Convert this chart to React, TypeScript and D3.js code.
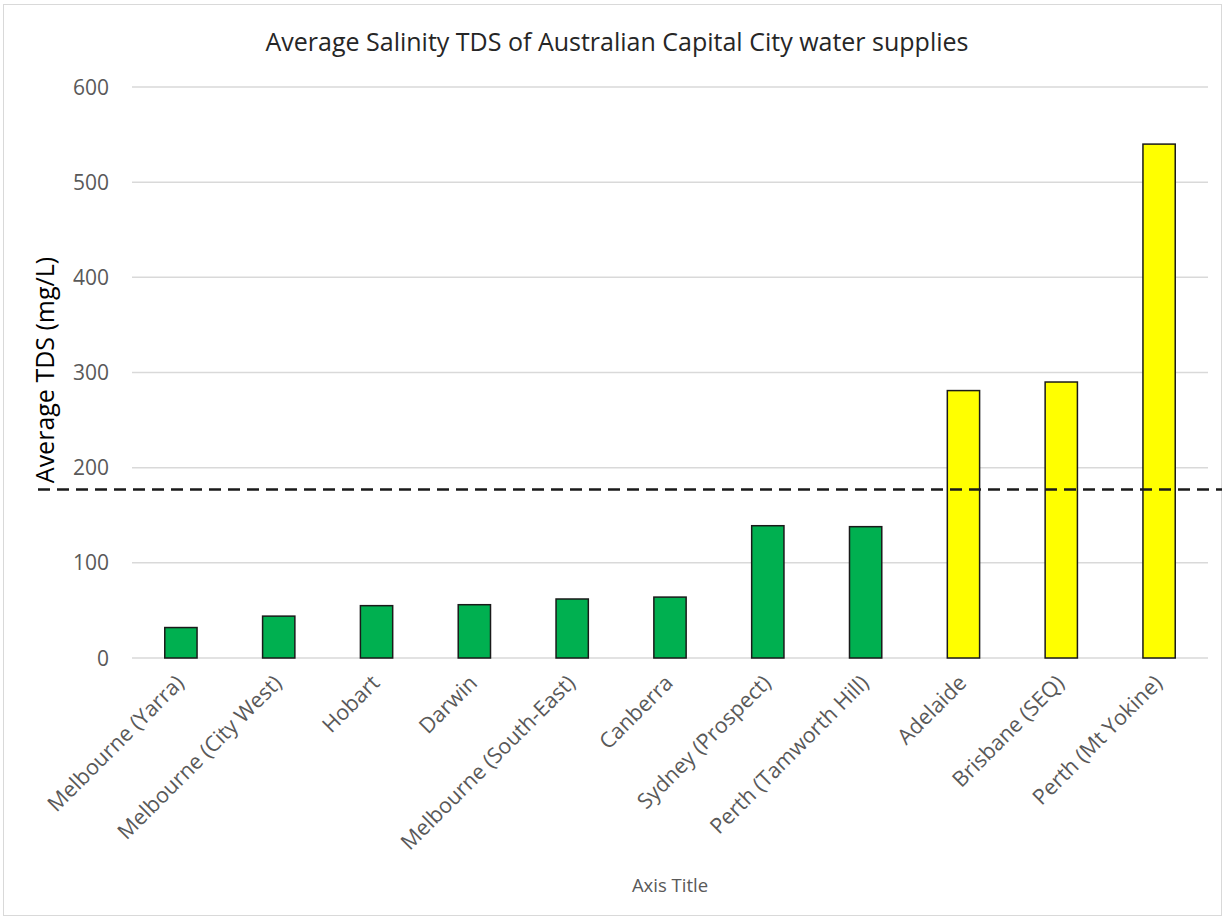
import React, { useEffect, useRef } from "react";
import * as d3 from "d3";

const categories = [
  "Melbourne (Yarra)",
  "Melbourne (City West)",
  "Hobart",
  "Darwin",
  "Melbourne (South-East)",
  "Canberra",
  "Sydney (Prospect)",
  "Perth (Tamworth Hill)",
  "Adelaide",
  "Brisbane (SEQ)",
  "Perth (Mt Yokine)",
];
const tdsValues = [32, 44, 55, 56, 62, 64, 139, 138, 281, 290, 540];
const barColors = ["#00B050", "#00B050", "#00B050", "#00B050", "#00B050", "#00B050", "#00B050", "#00B050", "#FFFF00", "#FFFF00", "#FFFF00"];
const yTicks = [0, 100, 200, 300, 400, 500, 600];
const thresholdValue = 177;

const chartTitle = "Average Salinity TDS of Australian Capital City water supplies";
const yAxisTitle = "Average TDS (mg/L)";
const xAxisTitle = "Axis Title";

const W = 1225;
const H = 920;
const FONT = "'Open Sans', Lato, sans-serif";

export default function App() {
  const ref = useRef<SVGSVGElement | null>(null);

  useEffect(() => {
    const svg = d3.select(ref.current);
    svg.selectAll("*").remove();

    const left = 132, right = 1208, top = 87, bottom = 658;

    const x = d3.scaleBand<string>().domain(categories).range([left, right]).paddingInner(0.67).paddingOuter(0.335);
    const y = d3.scaleLinear().domain([0, 600]).range([bottom, top]);

    svg.append("rect").attr("x", 3.5).attr("y", 4.5).attr("width", W - 7).attr("height", H - 9)
      .attr("fill", "#fff").attr("stroke", "#d9d9d9").attr("stroke-width", 1);

    // gridlines
    svg.append("g").selectAll("line").data(yTicks).join("line")
      .attr("x1", left).attr("x2", right)
      .attr("y1", (d) => y(d)).attr("y2", (d) => y(d))
      .attr("stroke", "#d9d9d9").attr("stroke-width", 1.5);

    // y tick labels
    svg.append("g").selectAll("text").data(yTicks).join("text")
      .attr("x", 109).attr("y", (d) => y(d)).attr("dy", "0.36em")
      .attr("text-anchor", "end").attr("fill", "#595959")
      .attr("font-family", FONT).attr("font-size", 21)
      .text((d) => String(d));

    // bars
    svg.append("g").selectAll("rect").data(tdsValues).join("rect")
      .attr("x", (_, i) => x(categories[i])!)
      .attr("y", (d) => y(d))
      .attr("width", x.bandwidth())
      .attr("height", (d) => y(0) - y(d))
      .attr("fill", (_, i) => barColors[i])
      .attr("stroke", "#1a1a1a").attr("stroke-width", 1.5);

    // threshold dashed line
    svg.append("line")
      .attr("x1", 38).attr("x2", 1222)
      .attr("y1", y(thresholdValue)).attr("y2", y(thresholdValue))
      .attr("stroke", "#1a1a1a").attr("stroke-width", 2.5)
      .attr("stroke-dasharray", "12,7");

    // x labels
    svg.append("g").selectAll("text").data(categories).join("text")
      .attr("transform", (d) => `translate(${x(d)! + x.bandwidth() / 2 - 1},${bottom + 21}) rotate(-45)`)
      .attr("text-anchor", "end").attr("fill", "#595959")
      .attr("font-family", FONT).attr("font-size", 21.5)
      .attr("dy", "0.35em")
      .text((d) => d);

    // title
    svg.append("text").attr("x", 617).attr("y", 51).attr("text-anchor", "middle")
      .attr("font-family", FONT).attr("font-size", 25).attr("fill", "#262626")
      .text(chartTitle);

    // y axis title
    svg.append("text").attr("transform", `translate(54,370) rotate(-90)`)
      .attr("text-anchor", "middle")
      .attr("font-family", FONT).attr("font-size", 25).attr("fill", "#000")
      .text(yAxisTitle);

    // x axis title
    svg.append("text").attr("x", 670).attr("y", 892).attr("text-anchor", "middle")
      .attr("font-family", FONT).attr("font-size", 18.5).attr("fill", "#595959")
      .text(xAxisTitle);
  }, []);

  return (
    <svg ref={ref} width={W} height={H} style={{ position: "absolute", left: 0, top: 0, background: "#fff" }} />
  );
}
